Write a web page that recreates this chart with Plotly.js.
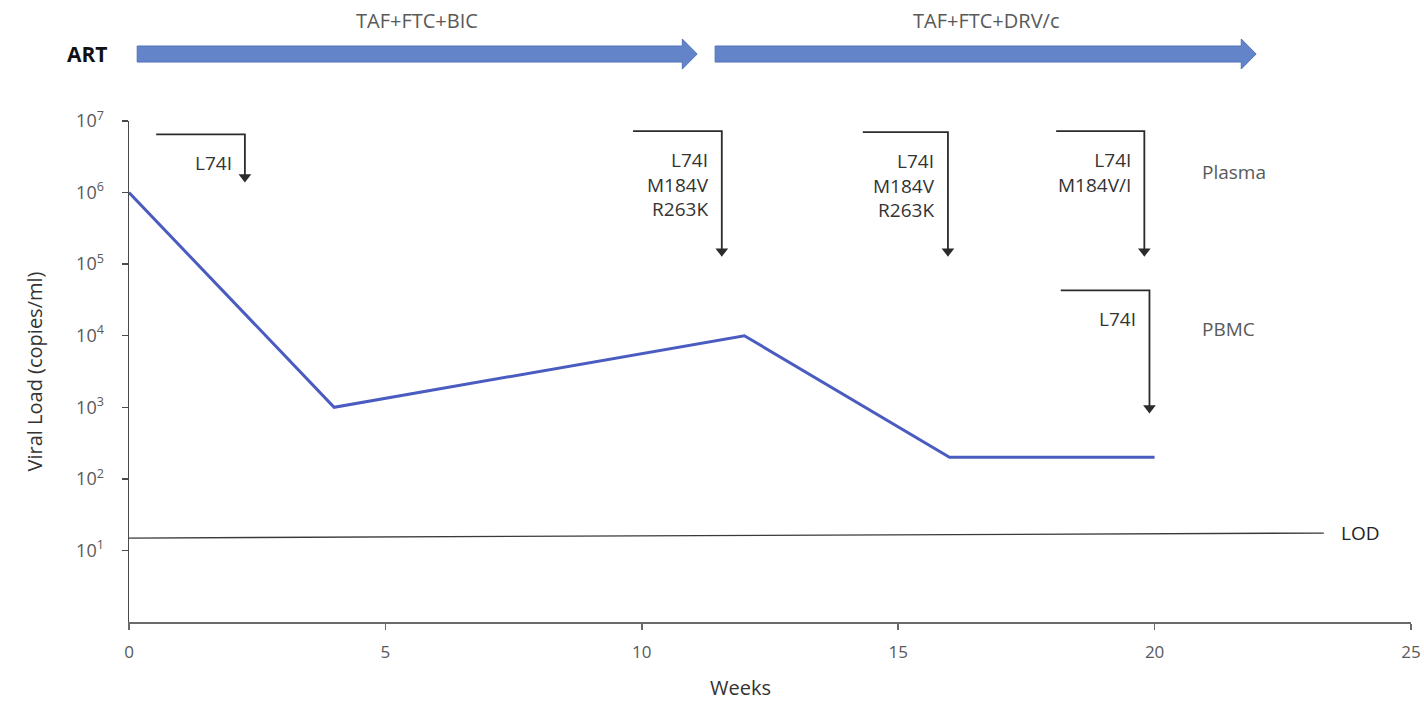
<!DOCTYPE html>
<html>
<head>
<meta charset="utf-8">
<script src="https://cdn.plot.ly/plotly-3.0.1.min.js"></script>
<style>html,body{margin:0;padding:0;background:#fff;}#chart{width:1424px;height:704px;}</style>
</head>
<body>
<div id="chart"></div>
<script>
// ---- data ----
const weeks = [0, 4, 12, 16, 20];
const viralLoad = [1e6, 1e3, 1e4, 200, 200];

const lodWeeks = [0, 23.3];
const lodValues = [14.9, 17.5];
const lodLabel = 'LOD';

const regimens = ['TAF+FTC+BIC', 'TAF+FTC+DRV/c'];
const regimenStart = [0.16, 11.43];
const regimenEnd = [11.08, 21.98];
const artLabel = 'ART';

const mutationText = ['L74I', 'L74I<br>M184V<br>R263K', 'L74I<br>M184V<br>R263K', 'L74I<br>M184V/I', 'L74I'];
const bracketStart = [0.53, 9.83, 14.31, 18.08, 18.17];
const bracketWeek = [2.26, 11.56, 15.97, 19.80, 19.90];
const bracketTop = [6.5e6, 7.2e6, 7.0e6, 7.2e6, 4.3e4];
const bracketTip = [1.65e6, 1.52e5, 1.52e5, 1.52e5, 975];

const compartments = ['Plasma', 'PBMC'];
const compartmentWeek = [20.88, 20.88];
const compartmentLevel = [1.93e6, 1.23e4];

const yTickVals = [10, 100, 1e3, 1e4, 1e5, 1e6, 1e7];
const yTickText = ['10<sup>1</sup>', '10<sup>2</sup>', '10<sup>3</sup>', '10<sup>4</sup>', '10<sup>5</sup>', '10<sup>6</sup>', '10<sup>7</sup>'];
const xTickVals = [0, 5, 10, 15, 20, 25];

const xTitle = 'Weeks';
const yTitle = 'Viral Load (copies/ml)';

// ---- styles ----
const FONT = 'Open Sans, Liberation Sans, sans-serif';
const GREY = '#595959';
const DARK = '#2b2b2b';
const BLUE = '#4a5cc0';
const ARROWFILL = '#6384c8';

const traces = [];
traces.push({
  x: weeks, y: viralLoad, mode: 'lines', type: 'scatter',
  line: {color: BLUE, width: 3}, hoverinfo: 'skip', showlegend: false
});
traces.push({
  x: lodWeeks, y: lodValues, mode: 'lines', type: 'scatter',
  line: {color: '#3a3a3a', width: 1.3}, hoverinfo: 'skip', showlegend: false
});
bracketStart.forEach((s, i) => {
  traces.push({
    x: [s, bracketWeek[i], bracketWeek[i]], y: [bracketTop[i], bracketTop[i], bracketTip[i]],
    mode: 'lines', type: 'scatter', cliponaxis: false,
    line: {color: DARK, width: 1.8}, hoverinfo: 'skip', showlegend: false
  });
});
traces.push({
  x: bracketWeek, y: bracketTip, mode: 'markers', type: 'scatter', cliponaxis: false,
  marker: {symbol: 'triangle-down', size: 11, color: DARK},
  hoverinfo: 'skip', showlegend: false
});

const annotations = [];
bracketWeek.forEach((w, i) => {
  annotations.push({
    x: w, y: Math.log10(bracketTop[i]), xref: 'x', yref: 'y',
    xanchor: 'right', yanchor: 'top', align: 'right', xshift: -11, yshift: -14,
    showarrow: false, text: mutationText[i],
    font: {family: FONT, size: 19, color: '#333'}
  });
});
compartments.forEach((c, i) => {
  annotations.push({
    x: compartmentWeek[i], y: Math.log10(compartmentLevel[i]), xref: 'x', yref: 'y',
    xanchor: 'left', yanchor: 'middle', showarrow: false, text: c,
    font: {family: FONT, size: 19, color: GREY}
  });
});
annotations.push({
  x: lodWeeks[1], y: Math.log10(lodValues[1]), xref: 'x', yref: 'y',
  xanchor: 'left', yanchor: 'middle', xshift: 15, showarrow: false, text: lodLabel,
  font: {family: FONT, size: 19, color: '#222'}
});
const ARROW_Y = 1.1337, BODY_H = 0.016, HEAD_H = 0.030, HEAD_L = 0.29;
const shapes = [];
regimens.forEach((r, i) => {
  const x0 = regimenStart[i], x1 = regimenEnd[i], xh = x1 - HEAD_L;
  const path = `M${x0},${ARROW_Y - BODY_H} L${xh},${ARROW_Y - BODY_H} L${xh},${ARROW_Y - HEAD_H} L${x1},${ARROW_Y} L${xh},${ARROW_Y + HEAD_H} L${xh},${ARROW_Y + BODY_H} L${x0},${ARROW_Y + BODY_H} Z`;
  shapes.push({type: 'path', xref: 'x', yref: 'paper', path: path,
    fillcolor: ARROWFILL, line: {color: '#5273b8', width: 1}, layer: 'above'});
  annotations.push({
    x: (x0 + x1) / 2, y: 1.2, xref: 'x', yref: 'paper', xanchor: 'center', yanchor: 'middle',
    showarrow: false, text: r, font: {family: FONT, size: 20, color: GREY}
  });
});
annotations.push({
  x: -0.032, y: ARROW_Y, xref: 'paper', yref: 'paper', xanchor: 'center', yanchor: 'middle',
  showarrow: false, text: '<b>' + artLabel + '</b>', font: {family: FONT, size: 21, color: '#111'}
});
annotations.push({
  x: 0.477, y: -0.131, xref: 'paper', yref: 'paper', xanchor: 'center', yanchor: 'middle',
  borderpad: 0, showarrow: false, text: xTitle, font: {family: FONT, size: 20, color: '#333'}
});

const layout = {
  width: 1424, height: 704,
  margin: {l: 129, r: 13, t: 121, b: 82},
  paper_bgcolor: '#fff', plot_bgcolor: '#fff',
  showlegend: false,
  xaxis: {
    range: [0, 25], tickvals: xTickVals, showgrid: false, zeroline: false,
    showline: true, linecolor: '#6a6a6a', linewidth: 2,
    ticks: 'outside', ticklen: 6, tickwidth: 1.5, tickcolor: '#6a6a6a',
    ticklabelstandoff: 8,
    tickfont: {family: FONT, size: 17, color: GREY}
  },
  yaxis: {
    type: 'log', range: [0, 7], tickvals: yTickVals, ticktext: yTickText,
    showgrid: false, zeroline: false, showline: true, linecolor: '#4a4a4a', linewidth: 1.5,
    ticks: 'outside', ticklen: 6, tickwidth: 1.5, tickcolor: '#4a4a4a',
    ticklabelstandoff: 14,
    tickfont: {family: FONT, size: 18, color: GREY},
    title: {text: yTitle, standoff: 28, font: {family: FONT, size: 20, color: '#333'}}
  },
  shapes: shapes,
  annotations: annotations
};

Plotly.newPlot('chart', traces, layout, {displayModeBar: false, staticPlot: true});
</script>
</body>
</html>
